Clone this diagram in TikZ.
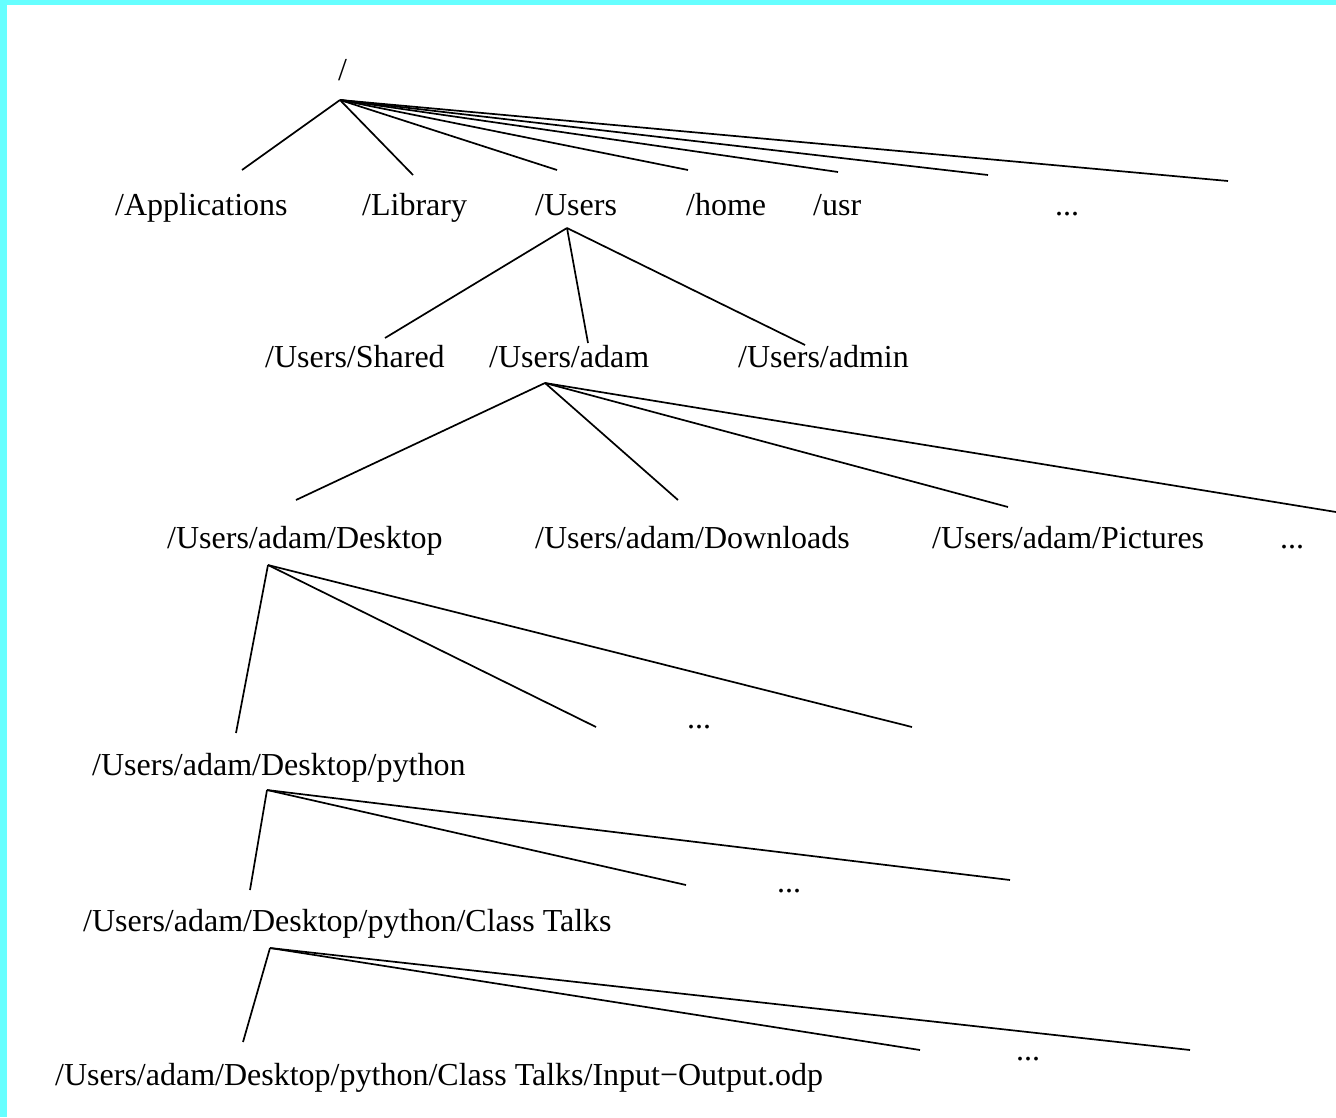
\documentclass[tikz,border=0pt]{standalone}
\usepackage{fontspec}
\setmainfont{Liberation Serif}
\definecolor{cyanbar}{HTML}{66FFFF}
\begin{document}
\begin{tikzpicture}[x=1pt,y=-1pt,
  lbl/.style={anchor=base west, inner sep=0pt, font=\fontsize{32}{38}\selectfont},
  edge/.style={line width=1.7pt, black}]
\useasboundingbox (0,0) rectangle (1336,1117);
\fill[white] (0,0) rectangle (1336,1117);
\fill[cyanbar] (0,0) rectangle (1336,5);
\fill[cyanbar] (0,0) rectangle (7,1117);

% level 0
\node[lbl] (root) at (338,80) {/};
\coordinate (r) at (340,100);
% level 1
\node[lbl] (apps) at (115,215) {/Applications};
\node[lbl] (lib) at (362,215) {/Library};
\node[lbl] (users) at (535,215) {/Users};
\node[lbl] (home) at (686,215) {/home};
\node[lbl] (usr) at (813,215) {/usr};
\node[lbl] (dots1) at (1055,215) {...};
\coordinate (e1a) at (242,170);
\coordinate (e1b) at (413,175);
\coordinate (e1c) at (557,170);
\coordinate (e1d) at (688,170);
\coordinate (e1e) at (838,172);
\coordinate (e1f) at (988,175);
\coordinate (e1g) at (1228,181);
\foreach \e in {e1a,e1b,e1c,e1d,e1e,e1f,e1g} \draw[edge] (r) -- (\e);

% level 2
\coordinate (u) at (567,228);
\node[lbl] (shared) at (265,367) {/Users/Shared};
\node[lbl] (adam) at (489,367) {/Users/adam};
\node[lbl] (admin) at (738,367) {/Users/admin};
\coordinate (e2a) at (385,338);
\coordinate (e2b) at (588,343);
\coordinate (e2c) at (805,345);
\foreach \e in {e2a,e2b,e2c} \draw[edge] (u) -- (\e);

% level 3
\coordinate (a) at (545,383);
\node[lbl] (desk) at (167,548) {/Users/adam/Desktop};
\node[lbl] (down) at (535,548) {/Users/adam/Downloads};
\node[lbl] (pics) at (932,548) {/Users/adam/Pictures};
\node[lbl] (dots3) at (1280,548) {...};
\coordinate (e3a) at (296,500);
\coordinate (e3b) at (678,500);
\coordinate (e3c) at (1008,507);
\coordinate (e3d) at (1336,512);
\foreach \e in {e3a,e3b,e3c,e3d} \draw[edge] (a) -- (\e);

% level 4
\coordinate (d) at (268,565);
\node[lbl] (py) at (92,775) {/Users/adam/Desktop/python};
\node[lbl] (dots4) at (687,728) {...};
\coordinate (e4a) at (236,733);
\coordinate (e4b) at (596,727);
\coordinate (e4c) at (912,727);
\foreach \e in {e4a,e4b,e4c} \draw[edge] (d) -- (\e);

% level 5
\coordinate (p) at (267,790);
\node[lbl] (ct) at (83,931) {/Users/adam/Desktop/python/Class Talks};
\node[lbl] (dots5) at (777,892) {...};
\coordinate (e5a) at (250,890);
\coordinate (e5b) at (686,885);
\coordinate (e5c) at (1010,880);
\foreach \e in {e5a,e5b,e5c} \draw[edge] (p) -- (\e);

% level 6
\coordinate (c) at (270,948);
\node[lbl] (io) at (55,1085) {/Users/adam/Desktop/python/Class Talks/Input−Output.odp};
\node[lbl] (dots6) at (1016,1060) {...};
\coordinate (e6a) at (243,1042);
\coordinate (e6b) at (920,1050);
\coordinate (e6c) at (1190,1050);
\foreach \e in {e6a,e6b,e6c} \draw[edge] (c) -- (\e);
\end{tikzpicture}
\end{document}
